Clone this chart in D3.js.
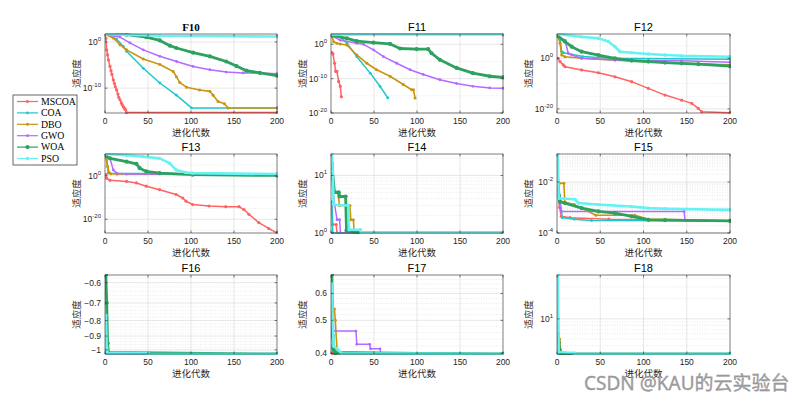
<!DOCTYPE html>
<html><head><meta charset="utf-8">
<script src="https://cdn.jsdelivr.net/npm/d3@7"></script>
<style>body{margin:0;background:#fff}svg{display:block}</style>
</head><body><svg id="c" width="806" height="401"></svg>
<script>
// ---------------- DATA ----------------
const algorithms = ["MSCOA", "COA", "DBO", "GWO", "WOA", "PSO"];
const panelNames = ["F10", "F11", "F12", "F13", "F14", "F15", "F16", "F17", "F18"];
const iterTicks = [0, 50, 100, 150, 200];

// each panel: one [iteration, fitness] list per algorithm, in algorithms order
const F10 = [
  [[1,7],[2,2e-2],[3,1.6e-3],[4,1.3e-4],[5.8,5e-6],[7,6e-7],[8,1e-7],[9.7,6e-9],[11,1e-9],[12,2e-10],[13.5,4e-11],[15,5e-12],[16,1e-12],[17.4,3e-13],[19,6e-14],[20,2.5e-14],[21.3,1e-14],[22,6e-15],[23,3e-15],[24,2e-15],[25,5e-16],[200,5e-16]],
  [[1,40],[13.5,4.4],[21.3,0.11],[25,1e-2],[44.5,2e-6],[63.8,1.3e-9],[83,3e-12],[100.6,5e-15],[200,5e-15]],
  [[1,40],[9.7,7.4],[17.4,0.26],[25,2e-2],[44.5,2e-4],[63.8,1.3e-5],[79.3,4e-7],[83,3e-8],[87,1.6e-9],[94.8,1.6e-10],[110,4e-11],[121.9,2e-11],[125.7,3e-12],[131.5,1.3e-13],[139,4e-14],[143,5e-15],[200,5e-15]],
  [[1,40],[17.4,12],[29,0.63],[44.5,2e-2],[63.8,8e-4],[83.2,6e-5],[102.5,5e-6],[121.9,1e-6],[141,3e-7],[160.5,2e-7],[180,2e-7],[200,1.3e-7]],
  [[1,50],[25,40],[48,12],[63.8,2.2],[75.4,0.16],[83,5e-2],[102.5,5e-3],[121.9,8e-4],[141,6e-5],[152.8,6e-6],[164.4,6e-7],[180,2e-7],[200,5e-8]],
  [[1,50],[64,23],[200,16]]
];
const F11 = [
  [[1,4e-3],[2.3,1.6e-3],[4.2,3e-6],[5.4,1.3e-8],[6.9,1.3e-8],[8.9,1.6e-11],[10.8,6e-13],[12,5e-16]],
  [[1,500],[10.8,160],[18.5,2],[30,2.5e-4],[45.6,4e-9],[57,6e-13],[66,2.5e-16]],
  [[1,250],[3.1,5.6],[6.9,2],[10.8,1.26],[18.5,0.63],[30,8e-4],[41.7,3e-6],[53,4e-8],[68.7,5e-10],[84,2e-12],[93.8,6e-14],[95.8,6e-14],[97.7,2.5e-16]],
  [[1,250],[10.8,16],[30,2],[37.8,1],[49.4,2.5e-2],[61,2.5e-4],[76.4,3e-6],[91.9,4e-8],[107.3,1.6e-9],[126.6,5e-11],[146,4e-12],[165,6e-13],[184.6,2e-13],[200,1.6e-13]],
  [[1,400],[18.5,50],[30,9],[49.4,2.9],[68.7,1.26],[80.3,6e-2],[99.6,4e-2],[113,4e-2],[117,2.5e-3],[126.6,3e-5],[146,1.3e-7],[165,4e-9],[184.6,5e-10],[200,2.5e-10]],
  [[1,800],[200,800]]
];
const F12 = [
  [[1,1],[3.5,5e-2],[7.3,2.5e-3],[9.2,5e-4],[28.5,2.5e-5],[47.8,2e-6],[67,5e-8],[86.3,6e-10],[105.6,1.3e-12],[124.9,3e-15],[144.1,3e-17],[155.7,1.6e-18],[163.4,1.6e-20],[167.2,8e-22],[200,3e-22]],
  [[1,4e9],[3.5,8e7],[5.4,400],[7.3,160],[30,5],[60,1],[200,0.4]],
  [[1,6e8],[3.5,8e5],[5.4,20],[9.2,4],[28.5,1],[67,0.2],[105.6,5e-2],[144.1,1e-2],[200,2.5e-3]],
  [[1,6e8],[9.2,1.6e7],[13,100],[17,20],[28.5,1],[67,0.2],[105.6,0.13],[144.1,0.1],[200,2.5e-2]],
  [[1,6e8],[9.2,4e6],[17,4e4],[28.5,400],[47.8,20],[67,1],[86.3,0.13],[105.6,5e-2],[124.9,2e-2],[144.1,1e-2],[163.4,5e-3],[200,8e-4]],
  [[1,4e9],[28.5,3e8],[47.8,8e7],[59.4,4e6],[67,4e4],[72.8,400],[86.3,160],[105.6,50],[124.9,20],[144.1,10],[200,4]]
];
const F13 = [
  [[1,3],[1.9,8e-2],[5.8,8e-3],[25,2.5e-3],[36.5,5e-4],[48,1.6e-5],[63.5,4e-7],[82.7,2.5e-9],[90.4,6e-11],[94.2,2e-12],[101.9,6e-14],[121,1.3e-14],[140.4,6e-15],[155.8,6e-15],[161.5,3e-16],[167.3,2e-18],[178.8,3e-22],[190.4,6e-25],[200,6e-27]],
  [[1,3e9],[1.9,6e8],[3.8,16],[200,4]],
  [[1,6e8],[2.9,1.6e4],[4.8,30],[6.7,8],[14,6],[200,4]],
  [[1,6e8],[5.8,1e8],[9.6,500],[13.5,16],[25,6],[200,5]],
  [[1,1.3e9],[5.8,1e8],[25,3e6],[36.5,3e5],[40.4,3e3],[48,100],[63.5,16],[101.9,3],[200,1.4]],
  [[1,1e10],[25,3e9],[44,6e8],[63.5,1e8],[75,6e5],[82.7,500],[94,30],[101.9,16],[200,6]]
];
const F14 = [
  [[1,3],[2,1.4],[6,1.4],[7,1.0],[200,0.998]],
  [[1,3.5],[2,1.0],[200,0.998]],
  [[1,14],[3,5],[8,4.9],[10,3.0],[22,3.0],[23,1.7],[26,1.7],[27,1.0],[200,0.998]],
  [[1,9],[3,4],[7,1.7],[10,1.7],[11,1.0],[200,0.998]],
  [[1,16],[4,5.1],[9,5.1],[10,4.3],[17,4.3],[18,1.1],[32,1.0],[200,0.998]],
  [[1,23.6],[2,12],[3,3.1],[20,3.0],[21,1.14],[34,1.14],[35,1.01],[200,1.01]]
];
const F15 = [
  [[1,3e-3],[3,1e-3],[5,4.5e-4],[15,4e-4],[60,3.5e-4],[200,3e-4]],
  [[1,3e-2],[3,3e-3],[6,4e-4],[20,3.5e-4],[40,3.1e-4],[200,3e-4]],
  [[1,5e-3],[3,9e-3],[8,9e-3],[9,1.6e-3],[20,1.3e-3],[45,5e-4],[90,5e-4],[105,3.5e-4],[200,3e-4]],
  [[1,3e-3],[3,1.6e-3],[5,7e-4],[147,7e-4],[148,3e-4],[200,3e-4]],
  [[1,6e-3],[3.5,1.7e-3],[9.2,1.5e-3],[28.5,9.5e-4],[47.8,7e-4],[67,6e-4],[86.3,4.5e-4],[105.6,3.3e-4],[124.9,3.2e-4],[200,3e-4]],
  [[1,0.126],[1.9,2.3e-3],[20.8,2.1e-3],[24.7,1.5e-3],[47.8,1.3e-3],[86.3,1.1e-3],[105.6,9.5e-4],[124.9,9e-4],[200,8.1e-4]]
];
const F16 = [
  [[1,-1.0],[2,-1.03],[200,-1.0316]],
  [[1,-0.98],[3,-1.03],[200,-1.0316]],
  [[1,-0.93],[2,-1.0],[3,-1.03],[200,-1.0316]],
  [[1,-0.9],[2,-1.0],[3,-1.03],[200,-1.0316]],
  [[1,-0.566],[2,-0.7],[3,-0.95],[4,-1.02],[200,-1.0316]],
  [[1,-0.77],[2,-0.98],[3,-1.025],[50,-1.025],[51,-1.031],[200,-1.0316]]
];
const F17 = [
  [[1,0.42],[2,0.40],[200,0.3979]],
  [[1,0.47],[2,0.42],[5,0.405],[200,0.3979]],
  [[1,0.55],[4,0.54],[5,0.5],[7,0.41],[10,0.40],[200,0.3979]],
  [[1,0.57],[2,0.57],[3,0.465],[29,0.465],[30,0.425],[45,0.425],[46,0.412],[57,0.412],[58,0.3979],[200,0.3979]],
  [[1,0.68],[2,0.45],[3,0.41],[5,0.40],[200,0.3979]],
  [[1,0.64],[2,0.5],[3,0.42],[8,0.41],[12,0.40],[200,0.3979]]
];
const F18 = [
  [[1,3.5],[2,3.0],[200,3]],
  [[1,4],[2,3.0],[200,3]],
  [[1,5.5],[3,5],[4,3.3],[6,3.0],[200,3]],
  [[1,8],[2,5],[3,3.5],[4,3.0],[200,3]],
  [[1,6],[2,4.5],[3,3.5],[5,3.0],[200,3]],
  [[1,45],[2,3.2],[20,3.1],[21,3.0],[200,3.0]]
];
const panelData = [F10, F11, F12, F13, F14, F15, F16, F17, F18];

// y axis limits
const yLimits = [[4e-16,55],[1e-20,1e3],[2.5e-22,4e9],[5e-27,1e10],[0.998,23.6],[1e-4,0.126],[-1.0316,-0.566],[0.3979,0.68],[3,45]];
// labelled y ticks
const yTicks = [[1e-10,1],[1e-20,1e-10,1],[1e-20,1],[1e-20,1],[1,10],[1e-4,1e-2],[-1,-0.9,-0.8,-0.7,-0.6],[0.4,0.5,0.6],[10]];
const yTickStyle = ["pow","pow","pow","pow","pow","pow","num","num","pow"];
const minorKind = ["dec5","dec5","dec5","dec5","sub","sub","lin","lin","sub"];

// ---------------- STYLE ----------------
const colors = ["#ff6363", "#1fc7cc", "#c9950f", "#b36bff", "#2ca25f", "#66f2f2"];
const widths = [1.5, 1.5, 1.6, 1.5, 2.8, 2.6];
const radii = [1.6, 1.4, 1.5, 1.4, 2.1, 1.7];

const svg = d3.select("#c");
svg.append("rect").attr("width",806).attr("height",401).attr("fill","#fff");
const cols = [[105,277],[331,503],[557,730]];
const rows = [[34,113],[154,233],[275,354]];
const AX = "#262626";

function minorValues(lim, kind, majors) {
  const lo = Math.min(...lim), hi = Math.max(...lim);
  const out = [];
  if (kind === "dec5") {
    for (let e = -30; e <= 12; e += 5) { const v = Math.pow(10, e); if (v > lo && v < hi) out.push(v); }
  } else if (kind === "sub") {
    for (let e = -6; e <= 3; e++) for (let k = 1; k <= 9; k++) { const v = k * Math.pow(10, e); if (v > lo && v < hi) out.push(v); }
  } else {
    for (let v = -1.2; v <= 1.2; v += 0.02) { const r = Math.round(v * 100) / 100; if (r > lo && r < hi) out.push(r); }
  }
  return out.filter(v => !majors.some(m => Math.abs(m - v) / Math.abs(m) < 1e-6));
}

panelNames.forEach((name, i) => {
  const [x0, x1] = cols[i % 3];
  const [y0, y1] = rows[Math.floor(i / 3)];
  const x = d3.scaleLinear().domain([0, 200]).range([x0, x1]);
  const y = d3.scaleLog().domain(yLimits[i]).range([y1, y0]);
  const g = svg.append("g");

  const minors = minorValues(yLimits[i], minorKind[i], yTicks[i]);
  g.selectAll(".mn").data(minors).join("line")
    .attr("x1", x0).attr("x2", x1).attr("y1", d => y(d)).attr("y2", d => y(d))
    .attr("stroke", "#d4d4d4").attr("stroke-width", 0.5).attr("stroke-dasharray", "1,1.5");
  g.selectAll(".my").data(yTicks[i]).join("line")
    .attr("x1", x0).attr("x2", x1).attr("y1", d => y(d)).attr("y2", d => y(d))
    .attr("stroke", "#dcdcdc").attr("stroke-width", 0.7);
  g.selectAll(".mx").data(iterTicks.slice(1, -1)).join("line")
    .attr("x1", d => x(d)).attr("x2", d => x(d)).attr("y1", y0).attr("y2", y1)
    .attr("stroke", "#dcdcdc").attr("stroke-width", 0.7);

  const cid = "clip" + i;
  svg.append("clipPath").attr("id", cid).append("rect")
    .attr("x", x0).attr("y", y0 - 1).attr("width", x1 - x0 + 1).attr("height", y1 - y0 + 2);
  const plot = g.append("g").attr("clip-path", `url(#${cid})`);
  const line = d3.line().x(d => x(d[0])).y(d => y(d[1]));
  panelData[i].forEach((series, s) => {
    plot.append("path").attr("d", line(series)).attr("fill", "none")
      .attr("stroke", colors[s]).attr("stroke-width", widths[s]).attr("stroke-linejoin", "round");
    plot.selectAll(null).data(series).join("circle")
      .attr("cx", d => x(d[0])).attr("cy", d => y(d[1])).attr("r", radii[s]).attr("fill", colors[s]);
  });

  g.append("rect").attr("x", x0).attr("y", y0).attr("width", x1 - x0).attr("height", y1 - y0)
    .attr("fill", "none").attr("stroke", AX).attr("stroke-width", 0.6);
  g.selectAll(".tx").data(iterTicks).join("path")
    .attr("d", d => `M${x(d)},${y1}v-2.5M${x(d)},${y0}v2.5`).attr("stroke", AX).attr("stroke-width", 0.6);
  g.selectAll(".ty").data(yTicks[i]).join("path")
    .attr("d", d => `M${x0},${y(d)}h2.5M${x1},${y(d)}h-2.5`).attr("stroke", AX).attr("stroke-width", 0.6);

  g.selectAll(".xl").data(iterTicks).join("text")
    .attr("x", d => x(d)).attr("y", y1 + 10.5).attr("text-anchor", "middle")
    .attr("font-family", "Arial, 'Liberation Sans', sans-serif").attr("font-size", 8.5).attr("fill", AX)
    .text(d => d);
  g.selectAll(".yl").data(yTicks[i]).join("text")
    .attr("x", x0 - 4).attr("y", d => y(d) + 3).attr("text-anchor", "end")
    .attr("font-family", "Arial, 'Liberation Sans', sans-serif").attr("font-size", 8.5).attr("fill", AX)
    .each(function (d) {
      const t = d3.select(this);
      if (yTickStyle[i] === "pow") {
        const e = Math.round(Math.log10(d));
        t.append("tspan").text("10");
        t.append("tspan").attr("dy", -4).attr("font-size", 6).text(e);
      } else {
        t.text(d3.format("")(d));
      }
    });
  g.append("text").attr("x", (x0 + x1) / 2).attr("y", y0 - 3.5).attr("text-anchor", "middle")
    .attr("font-family", i === 0 ? "'Liberation Serif', 'Times New Roman', serif" : "Arial, 'Liberation Sans', sans-serif")
    .attr("font-weight", i === 0 ? "bold" : "normal")
    .attr("font-size", 11).attr("fill", "#000").text(name);
  g.append("text").attr("x", (x0 + x1) / 2).attr("y", y1 + 23).attr("text-anchor", "middle")
    .attr("font-family", "'Noto Sans CJK SC', sans-serif").attr("font-size", 9.5).attr("fill", AX).text("进化代数");
  g.append("text").attr("transform", `translate(${x0 - 25},${(y0 + y1) / 2}) rotate(-90)`)
    .attr("text-anchor", "middle").attr("font-family", "'Noto Sans CJK SC', sans-serif")
    .attr("font-size", 9.5).attr("fill", AX).text("适应度");
});

// legend
const lg = svg.append("g");
lg.append("rect").attr("x", 13).attr("y", 95).attr("width", 64).attr("height", 70)
  .attr("fill", "#fff").attr("stroke", AX).attr("stroke-width", 0.7);
algorithms.forEach((a, s) => {
  const yy = 101.5 + s * 11.4;
  lg.append("line").attr("x1", 17).attr("x2", 38).attr("y1", yy).attr("y2", yy)
    .attr("stroke", colors[s]).attr("stroke-width", 1.2);
  lg.append("circle").attr("cx", 27.5).attr("cy", yy).attr("r", radii[s]).attr("fill", colors[s]);
  lg.append("text").attr("x", 41).attr("y", yy + 3.3)
    .attr("font-family", "'Liberation Serif', 'Times New Roman', serif").attr("font-size", 9.8)
    .attr("fill", "#000").text(a);
});

// watermark
svg.append("text").attr("x", 584).attr("y", 390)
  .attr("font-family", "'Noto Sans', 'Noto Sans CJK SC', sans-serif").attr("font-size", 19)
  .attr("fill", "#a0a0a0").attr("stroke", "#8a8a8a").attr("stroke-width", 0.3)
  .text("CSDN @KAU的云实验台");
</script></body></html>
